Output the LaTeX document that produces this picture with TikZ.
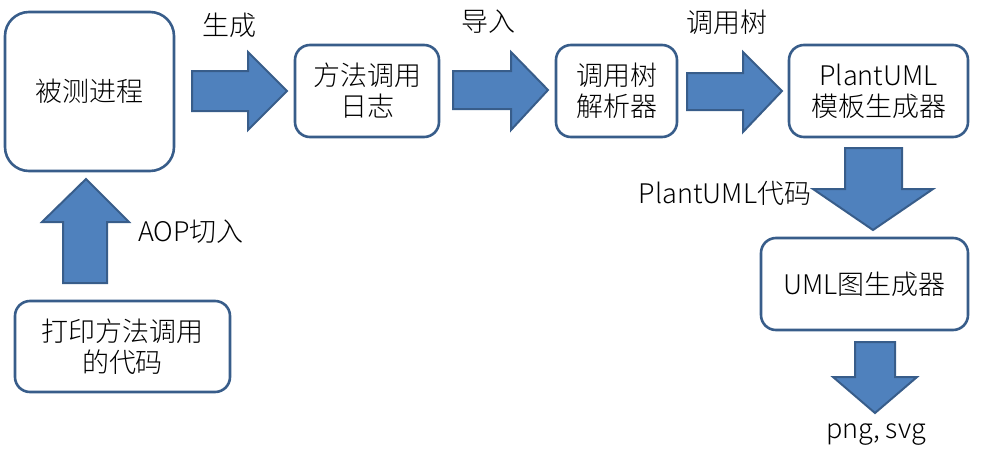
\documentclass[tikz,border=0pt]{standalone}
\usepackage{fontspec}
\setmainfont{Noto Sans CJK SC}[UprightFont={* Light}]
\usetikzlibrary{calc}
\definecolor{boxline}{RGB}{56,93,138}
\definecolor{arrowfill}{RGB}{79,129,189}
\tikzset{
	procbox/.style={draw=boxline, line width=2.6pt, fill=white, rounded corners=15pt, align=center, inner sep=0pt},
	blockarrow/.style={draw=boxline, line width=2pt, fill=arrowfill, line join=miter},
	steplabel/.style={inner sep=0pt, align=center}
}
\begin{document}
\begin{tikzpicture}[x=1pt, y=-1pt, font=\fontsize{27}{31}\selectfont]
			%%%%% START %%%%%
			\useasboundingbox (0, 0) rectangle (983, 461);
			
			\node[procbox, rounded corners=24pt, minimum width=169pt, minimum height=159pt] (proc) at (89.5, 91.5) {被测进程};
			\node[procbox, minimum width=144pt, minimum height=92pt] (log) at (367, 91) {方法调用\\日志};
			\node[procbox, minimum width=121pt, minimum height=92pt] (parser) at (616.5, 91) {调用树\\解析器};
			\node[procbox, minimum width=179pt, minimum height=92pt] (tmpl) at (878.5, 91) {PlantUML\\模板生成器};
			\node[procbox, minimum width=207pt, minimum height=92pt] (umlgen) at (864.5, 284) {UML图生成器};
			\node[procbox, minimum width=215pt, minimum height=91pt] (printer) at (122.5, 346.5) {打印方法调用\\的代码};
			
			% right arrows
			\draw[blockarrow] (192, 71) -- (248, 71) -- (248, 52) -- (287, 91) -- (248, 130) -- (248, 111) -- (192, 111) -- cycle;
			\draw[blockarrow] (453, 71) -- (511, 71) -- (511, 52) -- (548, 90) -- (511, 130) -- (511, 109) -- (453, 109) -- cycle;
			\draw[blockarrow] (687, 73) -- (743, 73) -- (743, 52) -- (782, 91) -- (743, 132) -- (743, 110) -- (687, 110) -- cycle;
			
			% down arrows
			\draw[blockarrow] (845, 148) -- (902, 148) -- (902, 189) -- (933, 189) -- (873, 230) -- (813, 189) -- (845, 189) -- cycle;
			\draw[blockarrow] (855, 342) -- (895, 342) -- (895, 377) -- (917, 377) -- (875, 413) -- (833, 377) -- (855, 377) -- cycle;
			
			% up arrow
			\draw[blockarrow] (63, 283) -- (107, 283) -- (107, 222) -- (129, 222) -- (86, 179) -- (42, 222) -- (63, 222) -- cycle;
			
			\node[steplabel] (gen) at (229, 25) {生成};
			\node[steplabel] (load) at (488, 22) {导入};
			\node[steplabel] (tree) at (727, 22) {调用树};
			\node[steplabel] (code) at (725, 193) {PlantUML代码};
			\node[steplabel] (aop) at (191, 232) {AOP切入};
			\node[steplabel] (out) at (876, 435) {png, svg};
			
			%%%%% END %%%%%
		\end{tikzpicture}
\end{document}
